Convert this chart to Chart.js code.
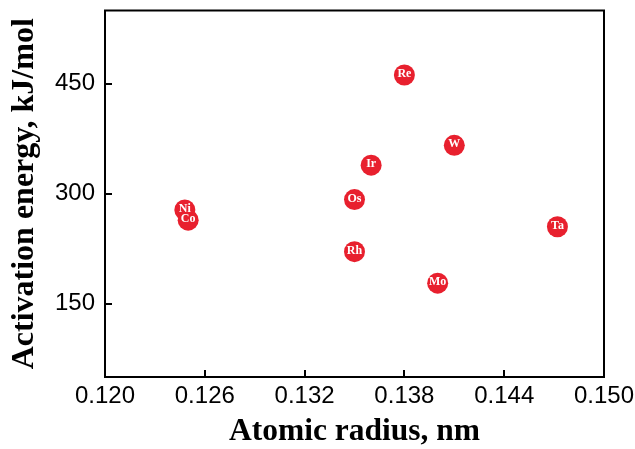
<!DOCTYPE html>
<html>
<head>
<meta charset="utf-8">
<script src="https://cdn.jsdelivr.net/npm/chart.js@4.4.1/dist/chart.umd.min.js"></script>
<style>
  html, body { margin: 0; padding: 0; background: #fff; }
  #wrap { width: 635px; height: 449px; }
</style>
</head>
<body>
<div id="wrap"><canvas id="plot" width="635" height="449"></canvas></div>
<script>
// data
const elements = ["Ni", "Co", "Rh", "Os", "Ir", "Re", "Mo", "W", "Ta"];
const radius = [0.1248, 0.1250, 0.1350, 0.1350, 0.1360, 0.1380, 0.1400, 0.1410, 0.1472];
const energy = [278, 264, 221, 292, 339, 462, 178, 366, 255];

const xTicks = [0.120, 0.126, 0.132, 0.138, 0.144, 0.150];
const yTicks = [150, 300, 450];

const red = "#e8202e";
const serif = "'Liberation Serif', 'Times New Roman', serif";
const sans = "'Liberation Sans', Arial, sans-serif";

// box round the plot area
const boxPlugin = {
  id: "box",
  afterDraw(chart) {
    const { ctx, chartArea: a } = chart;
    ctx.save();
    ctx.strokeStyle = "#000";
    ctx.lineWidth = 2;
    ctx.strokeRect(a.left, a.top, a.right - a.left, a.bottom - a.top);
    ctx.restore();
  }
};

// element symbols inside the markers
const labelPlugin = {
  id: "symbols",
  afterDatasetsDraw(chart) {
    const { ctx } = chart;
    const meta = chart.getDatasetMeta(0);
    ctx.save();
    ctx.fillStyle = "#fff";
    ctx.font = "bold 12px " + serif;
    ctx.textAlign = "center";
    ctx.textBaseline = "middle";
    meta.data.forEach((pt, i) => {
      ctx.fillText(elements[i], pt.x, pt.y - 1);
    });
    ctx.restore();
  }
};

new Chart(document.getElementById("plot"), {
  type: "scatter",
  data: {
    datasets: [{
      data: radius.map((r, i) => ({ x: r, y: energy[i] })),
      backgroundColor: red,
      borderColor: red,
      borderWidth: 0,
      pointRadius: 10.5,
      pointHoverRadius: 10.5
    }]
  },
  options: {
    responsive: false,
    animation: false,
    layout: { padding: { left: 0, top: 8, right: 31, bottom: 0 } },
    plugins: { legend: { display: false }, tooltip: { enabled: false } },
    scales: {
      x: {
        type: "linear",
        min: 0.120,
        max: 0.150,
        afterBuildTicks: s => { s.ticks = xTicks.map(v => ({ value: v })); },
        afterFit: s => { s.height = 72; s.paddingLeft = 0; s.paddingRight = 0; },
        border: { display: false },
        grid: { drawOnChartArea: false, drawTicks: true, tickLength: -7, lineWidth: 2, color: "#000" },
        ticks: {
          color: "#000",
          padding: 12,
          maxRotation: 0,
          font: { family: sans, size: 24 },
          callback: v => v.toFixed(3)
        },
        title: {
          display: true,
          text: "Atomic radius, nm",
          color: "#000",
          font: { family: serif, size: 31.5, weight: "bold" },
          padding: { top: 0, bottom: -2 }
        }
      },
      y: {
        type: "linear",
        min: 50,
        max: 550,
        afterBuildTicks: s => { s.ticks = yTicks.map(v => ({ value: v })); },
        afterFit: s => { s.width = 105; s.paddingTop = 0; s.paddingBottom = 0; },
        border: { display: false },
        grid: { drawOnChartArea: false, drawTicks: true, tickLength: -7, lineWidth: 2, color: "#000" },
        ticks: {
          color: "#000",
          padding: 17,
          font: { family: sans, size: 24 }
        },
        title: {
          display: true,
          text: "Activation energy, kJ/mol",
          color: "#000",
          font: { family: serif, size: 32, weight: "bold" },
          padding: { top: 6, bottom: 0 }
        }
      }
    }
  },
  plugins: [boxPlugin, labelPlugin]
});
</script>
</body>
</html>
